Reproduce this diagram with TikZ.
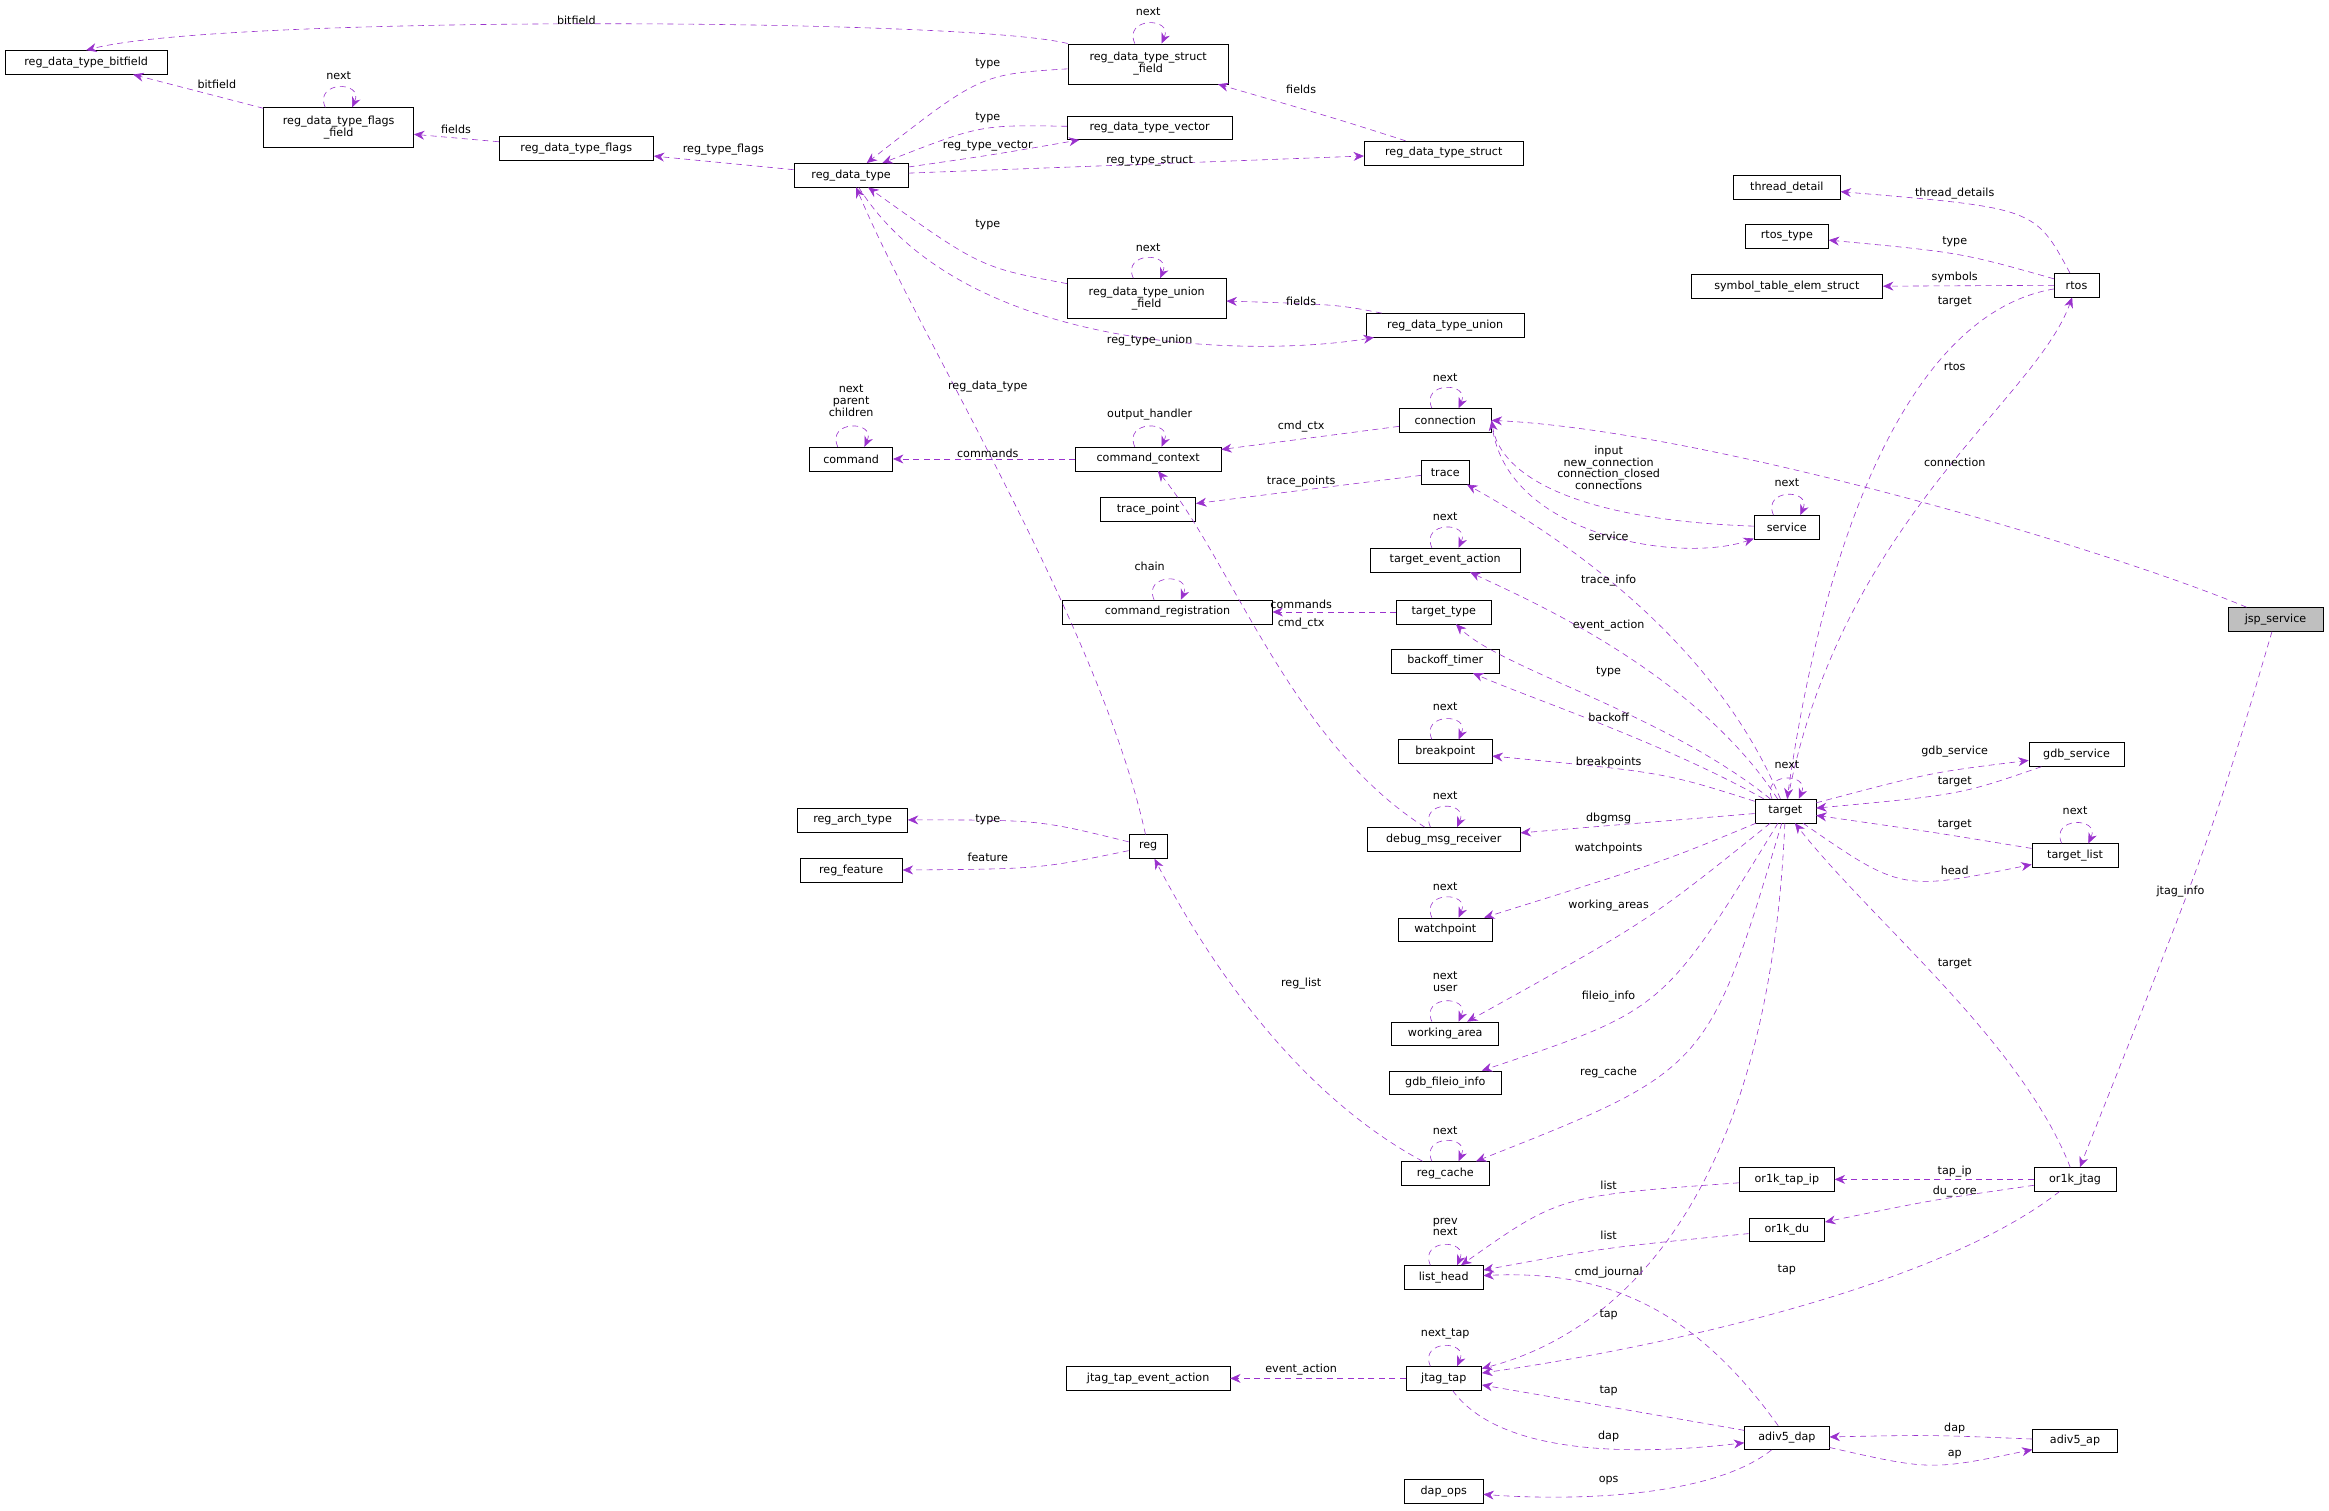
\documentclass[tikz,border=0pt]{standalone}
\usepackage{fontspec}
\setmainfont{DejaVu Sans}
\usetikzlibrary{arrows.meta}
\definecolor{edgec}{HTML}{9A32CD}
\tikzset{
 box/.style={draw=black,fill=white,minimum height=16pt,inner sep=1pt,font=\fontsize{7.5}{8}\selectfont,align=center},
 box2/.style={box,minimum height=27pt},
 e/.style={draw=edgec,dashed,dash pattern=on 4pt off 3pt,-{Stealth[length=7pt,width=6pt]}},
 lab/.style={font=\fontsize{7.5}{8}\selectfont,inner sep=0pt,align=center}
}
\newcommand\N[5]{\node[box,minimum width=#4pt] (#1) at (#2,#3) {#5};}
\newcommand\NN[5]{\node[box2,minimum width=#4pt] (#1) at (#2,#3) {#5};}
\newcommand\Lb[4]{\node[lab] (#1) at (#2,#3) {#4};}
\newcommand\Loop[1]{\draw[e] ([xshift=-9pt]#1.north) .. controls +(-8,-18) and +(8,-18) .. ([xshift=9pt]#1.north);}
\begin{document}
\begin{tikzpicture}[x=1pt,y=-1pt]
\useasboundingbox (0,0) rectangle (1568,1017);
\N{bf}{58}{42}{109}{reg\_data\_type\_bitfield}
\NN{ff}{228}{86}{101}{reg\_data\_type\_flags\\\_field}
\N{fl}{388}{100}{104}{reg\_data\_type\_flags}
\N{rdt}{573}{118}{77}{reg\_data\_type}
\NN{sf}{773}{43}{108}{reg\_data\_type\_struct\\\_field}
\N{vec}{774}{86}{111}{reg\_data\_type\_vector}
\N{st}{972}{103}{107}{reg\_data\_type\_struct}
\NN{uf}{772}{201}{107}{reg\_data\_type\_union\\\_field}
\N{un}{973}{219}{106}{reg\_data\_type\_union}
\N{td}{1203}{126}{72}{thread\_detail}
\N{rt}{1203}{159}{56}{rtos\_type}
\N{sym}{1203}{193}{129}{symbol\_table\_elem\_struct}
\N{rtos}{1398}{192}{30}{rtos}
\N{conn}{973}{283}{62}{connection}
\N{cmd}{573}{309}{56}{command}
\N{cc}{773}{309}{98}{command\_context}
\N{trace}{973}{318}{32}{trace}
\N{tp}{773}{343}{64}{trace\_point}
\N{serv}{1203}{355}{44}{service}
\N{tea}{973}{377}{101}{target\_event\_action}
\N{creg}{786}{412}{141}{command\_registration}
\N{tt}{972}{412}{64}{target\_type}
\node[box,minimum width=64pt,fill=black!25] (jsp) at (1532,417) {jsp\_service};
\N{bt}{973}{445}{73}{backoff\_timer}
\N{bp}{973}{506}{63}{breakpoint}
\N{gdbs}{1398}{508}{64}{gdb\_service}
\N{tgt}{1202}{546}{41}{target}
\N{rat}{574}{552}{74}{reg\_arch\_type}
\N{reg}{773}{570}{26}{reg}
\N{dmr}{972}{565}{103}{debug\_msg\_receiver}
\N{tl}{1397}{576}{58}{target\_list}
\N{rf}{573}{586}{69}{reg\_feature}
\N{wp}{973}{626}{63}{watchpoint}
\N{wa}{973}{696}{72}{working\_area}
\N{gfi}{973}{729}{76}{gdb\_fileio\_info}
\N{rc}{973}{790}{59}{reg\_cache}
\N{otap}{1203}{794}{64}{or1k\_tap\_ip}
\N{oj}{1397}{794}{55}{or1k\_jtag}
\N{odu}{1203}{828}{51}{or1k\_du}
\N{lh}{972}{860}{53}{list\_head}
\N{jtea}{773}{928}{110}{jtag\_tap\_event\_action}
\N{jt}{972}{928}{51}{jtag\_tap}
\N{dap}{1203}{968}{57}{adiv5\_dap}
\N{ap}{1397}{970}{57}{adiv5\_ap}
\N{ops}{972}{1004}{53}{dap\_ops}

% edges
\draw[e] (sf.north west) .. controls (650,12) and (150,10) .. (bf.north);
\Lb{l1}{388}{14}{bitfield}
\draw[e] (ff) -- (bf); \Lb{l2}{146}{57}{bitfield}
\Loop{ff} \Lb{l3}{228}{51}{next}
\draw[e] (fl) -- (ff); \Lb{l4}{307}{87}{fields}
\draw[e] (rdt) -- (fl); \Lb{l5}{487}{101}{reg\_type\_flags}
\draw[e] (sf) .. controls (660,50) .. (rdt); \Lb{l6}{665}{43}{type}
\Loop{sf} \Lb{l7}{773}{8}{next}
\draw[e] (vec) .. controls (660,84) .. (rdt); \Lb{l8}{665}{79}{type}
\draw[e] (rdt) .. controls (670,104) .. (vec); \Lb{l9}{665}{98}{reg\_type\_vector}
\draw[e] (rdt) -- (st); \Lb{l10}{774}{108}{reg\_type\_struct}
\draw[e] (st) .. controls (900,80) .. (sf); \Lb{l11}{876}{60}{fields}
\draw[e] (uf) .. controls (660,180) .. (rdt); \Lb{l12}{665}{151}{type}
\Loop{uf} \Lb{l13}{773}{167}{next}
\draw[e] (un) .. controls (900,205) .. (uf); \Lb{l14}{876}{203}{fields}
\draw[e] (rdt) .. controls (650,240) and (850,240) .. (un); \Lb{l15}{774}{229}{reg\_type\_union}
\draw[e] (reg) .. controls (740,420) and (620,230) .. (rdt); \Lb{l16}{665}{260}{reg\_data\_type}
\draw[e] (rtos) .. controls (1370,140) .. (td); \Lb{l17}{1316}{130}{thread\_details}
\draw[e] (rtos) .. controls (1320,170) .. (rt); \Lb{l18}{1316}{163}{type}
\draw[e] (rtos) -- (sym); \Lb{l19}{1316}{187}{symbols}
\draw[e] (rtos) .. controls (1290,210) and (1230,350) .. (tgt); \Lb{l20}{1316}{203}{target}
\draw[e] (tgt) .. controls (1240,350) and (1370,270) .. (rtos); \Lb{l21}{1316}{247}{rtos}
\Loop{cmd} \Lb{l22}{573}{270}{next\\parent\\children}
\draw[e] (cc) -- (cmd); \Lb{l23}{665}{305}{commands}
\Loop{cc} \Lb{l24}{774}{279}{output\_handler}
\draw[e] (conn) -- (cc); \Lb{l25}{876}{287}{cmd\_ctx}
\Loop{conn} \Lb{l26}{973}{254}{next}
\draw[e] (serv) .. controls (1060,350) and (1010,320) .. (conn.east); \Lb{l27}{1083}{315}{input\\new\_connection\\connection\_closed\\connections}
\draw[e] (conn.east) .. controls (1010,360) and (1130,380) .. (serv); \Lb{l28}{1083}{361}{service}
\draw[e] (jsp) .. controls (1420,370) and (1150,290) .. (conn.east); \Lb{l29}{1316}{311}{connection}
\Loop{serv} \Lb{l30}{1203}{325}{next}
\draw[e] (trace) -- (tp); \Lb{l31}{876}{324}{trace\_points}
\draw[e] (tgt) .. controls (1150,420) and (1030,350) .. (trace); \Lb{l32}{1083}{391}{trace\_info}
\Loop{tea} \Lb{l33}{973}{348}{next}
\draw[e] (tgt) .. controls (1140,450) and (1020,400) .. (tea); \Lb{l34}{1083}{421}{event\_action}
\Loop{creg} \Lb{l35}{774}{381}{chain}
\draw[e] (tt) -- (creg); \Lb{l36}{876}{407}{commands}
\draw[e] (dmr) .. controls (870,500) and (830,380) .. (cc); \Lb{l37}{876}{420}{cmd\_ctx}
\draw[e] (tgt) .. controls (1120,480) and (1010,450) .. (tt); \Lb{l38}{1083}{452}{type}
\draw[e] (tgt) .. controls (1120,500) and (1030,470) .. (bt); \Lb{l39}{1083}{483}{backoff}
\Loop{bp} \Lb{l40}{973}{476}{next}
\draw[e] (tgt) .. controls (1120,520) .. (bp); \Lb{l41}{1083}{513}{breakpoints}
\Loop{tgt} \Lb{l42}{1203}{515}{next}
\draw[e] (tgt) .. controls (1300,520) .. (gdbs); \Lb{l43}{1316}{506}{gdb\_service}
\draw[e] (gdbs) .. controls (1320,535) .. (tgt); \Lb{l44}{1316}{526}{target}
\Loop{tl} \Lb{l45}{1397}{546}{next}
\draw[e] (tl) .. controls (1300,560) .. (tgt); \Lb{l46}{1316}{555}{target}
\draw[e] (tgt) .. controls (1280,600) .. (tl); \Lb{l47}{1316}{586}{head}
\Loop{dmr} \Lb{l48}{973}{536}{next}
\draw[e] (tgt) -- (dmr); \Lb{l49}{1083}{551}{dbgmsg}
\draw[e] (reg) .. controls (700,552) .. (rat); \Lb{l50}{665}{552}{type}
\draw[e] (reg) .. controls (700,585) .. (rf); \Lb{l51}{665}{577}{feature}
\draw[e] (tgt) .. controls (1120,580) .. (wp); \Lb{l52}{1083}{571}{watchpoints}
\Loop{wp} \Lb{l53}{973}{597}{next}
\draw[e] (tgt) .. controls (1110,620) .. (wa); \Lb{l54}{1083}{610}{working\_areas}
\Loop{wa} \Lb{l55}{973}{661}{next\\user}
\draw[e] (tgt) .. controls (1120,680) .. (gfi); \Lb{l56}{1083}{671}{fileio\_info}
\draw[e] (tgt) .. controls (1150,720) .. (rc); \Lb{l57}{1083}{722}{reg\_cache}
\Loop{rc} \Lb{l58}{973}{761}{next}
\draw[e] (rc) .. controls (880,740) and (820,660) .. (reg); \Lb{l59}{876}{662}{reg\_list}
\draw[e] (jsp) .. controls (1490,560) .. (oj); \Lb{l60}{1468}{600}{jtag\_info}
\draw[e] (oj) .. controls (1360,700) and (1260,620) .. (tgt); \Lb{l61}{1316}{649}{target}
\draw[e] (oj) -- (otap); \Lb{l62}{1316}{789}{tap\_ip}
\draw[e] (oj) .. controls (1300,808) .. (odu); \Lb{l63}{1316}{802}{du\_core}
\draw[e] (otap) .. controls (1050,805) .. (lh); \Lb{l64}{1083}{798}{list}
\draw[e] (odu) .. controls (1080,840) .. (lh); \Lb{l65}{1083}{832}{list}
\Loop{lh} \Lb{l66}{973}{826}{prev\\next}
\draw[e] (dap) .. controls (1140,880) and (1080,855) .. (lh); \Lb{l67}{1083}{857}{cmd\_journal}
\draw[e] (oj) .. controls (1300,870) and (1100,910) .. (jt); \Lb{l68}{1203}{855}{tap}
\draw[e] (tgt) .. controls (1190,820) and (1080,900) .. (jt); \Lb{l69}{1083}{885}{tap}
\Loop{jt} \Lb{l70}{973}{898}{next\_tap}
\draw[e] (jt) -- (jtea); \Lb{l71}{876}{922}{event\_action}
\draw[e] (dap) .. controls (1100,950) .. (jt); \Lb{l72}{1083}{936}{tap}
\draw[e] (jt) .. controls (1010,980) and (1100,980) .. (dap); \Lb{l73}{1083}{967}{dap}
\draw[e] (ap) .. controls (1300,966) .. (dap); \Lb{l74}{1316}{962}{dap}
\draw[e] (dap) .. controls (1300,990) .. (ap); \Lb{l75}{1316}{979}{ap}
\draw[e] (dap) .. controls (1150,1010) and (1050,1010) .. (ops); \Lb{l76}{1083}{997}{ops}
\end{tikzpicture}
\end{document}
